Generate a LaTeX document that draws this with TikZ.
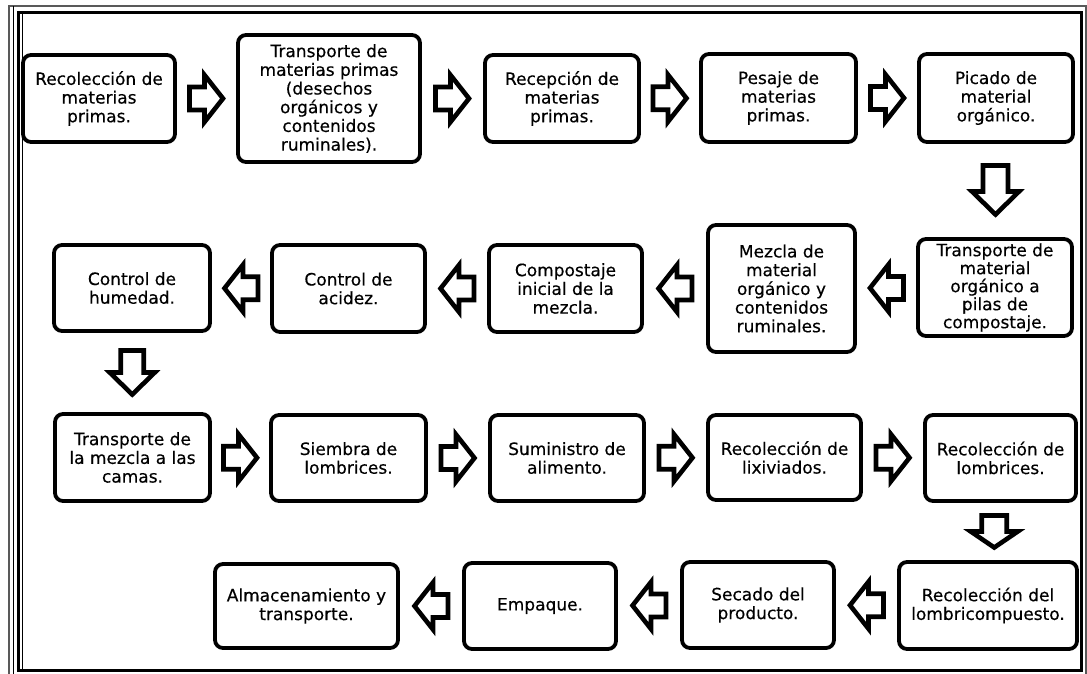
\documentclass[tikz,border=0pt]{standalone}
\usepackage{fontspec}
\setmainfont{DejaVu Sans}[UprightFeatures={FakeBold=0.4}]
\usetikzlibrary{calc}
\tikzset{
  stepbox/.style={draw=black, line width=3.8pt, rounded corners=8pt, fill=white,
    align=center, inner sep=1pt,
    font=\fontsize{17}{18.7}\selectfont},
  blockarrow/.style={draw=black, line width=4.6pt, fill=white, line join=miter},
  rarrow/.pic={\draw[blockarrow] (-17,-11.5) -- (-2,-11.5) -- (-2,-23.5) -- (16.5,0) -- (-2,23.5) -- (-2,11.5) -- (-17,11.5) -- cycle;},
  larrow/.pic={\draw[blockarrow] (17,-11.5) -- (2,-11.5) -- (2,-23.5) -- (-16.5,0) -- (2,23.5) -- (2,11.5) -- (17,11.5) -- cycle;},
  darrowlong/.pic={\draw[blockarrow] (-12.5,-25) -- (12.5,-25) -- (12.5,1) -- (23.5,1) -- (0,24) -- (-23.5,1) -- (-12.5,1) -- cycle;},
  darrowmid/.pic={\draw[blockarrow] (-11.5,-22) -- (11.5,-22) -- (11.5,0) -- (22.5,0) -- (0,22) -- (-22.5,0) -- (-11.5,0) -- cycle;},
  darrowshort/.pic={\draw[blockarrow] (-12.5,-16) -- (12.5,-16) -- (12.5,0) -- (23.5,0) -- (0,16) -- (-23.5,0) -- (-12.5,0) -- cycle;},
  frameline/.style={draw=black}
}
\begin{document}
\begin{tikzpicture}[x=1pt,y=-1pt]
\useasboundingbox (0,0) rectangle (1087,673);
\fill[white] (0,0) rectangle (1087,673);
% frame
\draw[frameline, draw=black!65, line width=1.3pt] (9,6) rectangle (1086,675);
\draw[frameline, line width=1pt] (13,6) -- (13,675);
\draw[frameline, line width=3pt] (18,12) rectangle (1081.5,670);
\draw[frameline, line width=1pt] (22,12) -- (22,670);

% row 1
\node[stepbox, minimum width=152pt, minimum height=87pt] (b1) at (99,98.5) {Recolección de\\materias\\primas.};
\node[stepbox, minimum width=182pt, minimum height=127pt] (b2) at (329,98.5) {Transporte de\\materias primas\\(desechos\\orgánicos y\\contenidos\\ruminales).};
\node[stepbox, minimum width=154pt, minimum height=87pt] (b3) at (562,98.5) {Recepción de\\materias\\primas.};
\node[stepbox, minimum width=155pt, minimum height=88pt] (b4) at (778.5,98) {Pesaje de\\materias\\primas.};
\node[stepbox, minimum width=154pt, minimum height=88pt] (b5) at (996,98) {Picado de\\material\\orgánico.};
% row 2
\node[stepbox, minimum width=154pt, minimum height=97pt, inner sep=0pt,
  font=\fontsize{17}{18}\selectfont] (b6) at (995,287.5) {Transporte de\\material\\orgánico a\\pilas de\\compostaje.};
\node[stepbox, minimum width=147pt, minimum height=127pt] (b7) at (781.5,288.5) {Mezcla de\\material\\orgánico y\\contenidos\\ruminales.};
\node[stepbox, minimum width=153pt, minimum height=87pt] (b8) at (565.5,288.5) {Compostaje\\inicial de la\\mezcla.};
\node[stepbox, minimum width=153pt, minimum height=87pt] (b9) at (348.5,288.5) {Control de\\acidez.};
\node[stepbox, minimum width=156pt, minimum height=86pt] (b10) at (132,288) {Control de\\humedad.};
% row 3
\node[stepbox, minimum width=155pt, minimum height=87pt] (b11) at (132.5,457.5) {Transporte de\\la mezcla a las\\camas.};
\node[stepbox, minimum width=155pt, minimum height=86pt] (b12) at (348.5,458) {Siembra de\\lombrices.};
\node[stepbox, minimum width=154pt, minimum height=86pt] (b13) at (567,458) {Suministro de\\alimento.};
\node[stepbox, minimum width=153pt, minimum height=85pt] (b14) at (784.5,457.5) {Recolección de\\lixiviados.};
\node[stepbox, minimum width=151pt, minimum height=86pt] (b15) at (1000.5,458) {Recolección de\\lombrices.};
% row 4
\node[stepbox, minimum width=178pt, minimum height=87pt] (b16) at (988,605.5) {Recolección del\\lombricompuesto.};
\node[stepbox, minimum width=152pt, minimum height=86pt] (b17) at (758,605) {Secado del\\producto.};
\node[stepbox, minimum width=152pt, minimum height=86pt] (b18) at (540,606) {Empaque.};
\node[stepbox, minimum width=183pt, minimum height=84pt] (b19) at (306.5,606) {Almacenamiento y\\transporte.};

% arrows
\pic at ($(b1.east)!0.5!(b2.west)$) {rarrow};
\pic at ($(b2.east)!0.5!(b3.west)$) {rarrow};
\pic at ($(b3.east)!0.5!(b4.west)$) {rarrow};
\pic at ($(b4.east)!0.5!(b5.west)$) {rarrow};
\pic at ($(b5.south)!0.5!(b6.north)$) {darrowlong};
\pic at ($(b6.west)!0.5!(b7.east)$) {larrow};
\pic at ($(b7.west)!0.5!(b8.east)$) {larrow};
\pic at ($(b8.west)!0.5!(b9.east)$) {larrow};
\pic at ($(b9.west)!0.5!(b10.east)$) {larrow};
\pic at ($(b10.south)!0.5!(b11.north)$) {darrowmid};
\pic at ($(b11.east)!0.5!(b12.west)$) {rarrow};
\pic at ($(b12.east)!0.5!(b13.west)$) {rarrow};
\pic at ($(b13.east)!0.5!(b14.west)$) {rarrow};
\pic at ($(b14.east)!0.5!(b15.west)$) {rarrow};
\pic at ($(b15.south)!0.5!(b16.north)$) {darrowshort};
\pic at ($(b16.west)!0.5!(b17.east)$) {larrow};
\pic at ($(b17.west)!0.5!(b18.east)$) {larrow};
\pic at ($(b18.west)!0.5!(b19.east)$) {larrow};
\end{tikzpicture}
\end{document}
